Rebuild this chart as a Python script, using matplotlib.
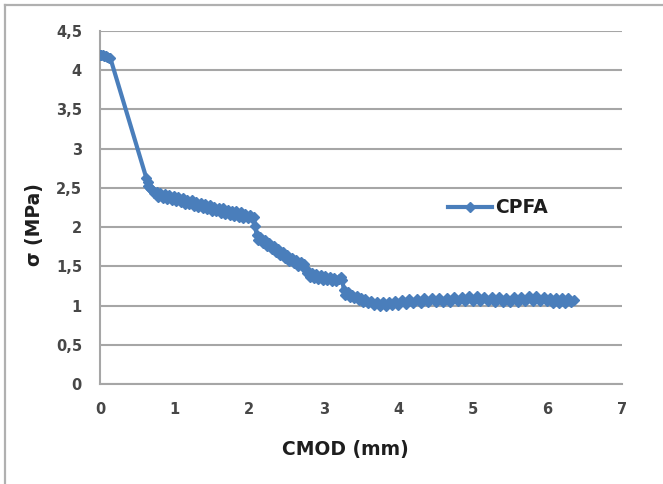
import matplotlib
matplotlib.use("Agg")
import matplotlib.pyplot as plt
from matplotlib.lines import Line2D
from matplotlib.ticker import FuncFormatter, MultipleLocator

# CMOD (mm) and stress (MPa) readings for the CPFA specimen
cmod = [
    0.00, 0.02, 0.04, 0.06, 0.08, 0.10, 0.12, 0.14,
    0.62, 0.64, 0.65, 0.67, 0.69, 0.71, 0.73, 0.76, 0.78, 0.81, 0.84, 0.87,
    0.90, 0.93, 0.96, 0.99, 1.02, 1.05, 1.08, 1.11, 1.14, 1.17, 1.20, 1.23,
    1.26, 1.29, 1.32, 1.35, 1.38, 1.41, 1.44, 1.47, 1.50, 1.53, 1.56, 1.59,
    1.62, 1.65, 1.68, 1.71, 1.74, 1.77, 1.80, 1.83, 1.86, 1.89, 1.92, 1.95,
    1.98, 2.01, 2.04, 2.06,
    2.08, 2.10, 2.12, 2.15, 2.18, 2.21, 2.24, 2.27, 2.30, 2.33, 2.36, 2.39,
    2.42, 2.45, 2.48, 2.51, 2.54, 2.57, 2.60, 2.63, 2.66, 2.69, 2.72, 2.74,
    2.76, 2.78, 2.81, 2.84, 2.87, 2.90, 2.93, 2.96, 2.99, 3.02, 3.05, 3.08,
    3.11, 3.14, 3.17, 3.20, 3.23, 3.25, 3.27, 3.29, 3.32, 3.35, 3.38, 3.41,
    3.44, 3.47, 3.50, 3.53, 3.56, 3.60, 3.64, 3.68, 3.72, 3.76, 3.80, 3.84,
    3.88, 3.92, 3.96, 4.00, 4.05, 4.10, 4.15, 4.20, 4.25, 4.30, 4.35, 4.40,
    4.45, 4.50, 4.55, 4.60, 4.65, 4.70, 4.75, 4.80, 4.85, 4.90, 4.95, 5.00,
    5.05, 5.10, 5.15, 5.20, 5.25, 5.30, 5.35, 5.40, 5.45, 5.50, 5.55, 5.60,
    5.65, 5.70, 5.75, 5.80, 5.85, 5.90, 5.95, 6.00, 6.04, 6.08, 6.12, 6.16,
    6.20, 6.24, 6.28, 6.32, 6.35,
]
sigma = [
    4.20, 4.20, 4.19, 4.18, 4.18, 4.17, 4.16, 4.15,
    2.63, 2.58, 2.53, 2.50, 2.48, 2.46, 2.44, 2.45, 2.38, 2.44, 2.37, 2.42,
    2.36, 2.41, 2.34, 2.40, 2.33, 2.38, 2.32, 2.37, 2.30, 2.35, 2.29, 2.34,
    2.27, 2.32, 2.26, 2.31, 2.24, 2.29, 2.23, 2.28, 2.21, 2.26, 2.20, 2.25,
    2.18, 2.24, 2.17, 2.22, 2.16, 2.21, 2.14, 2.20, 2.13, 2.19, 2.12, 2.17,
    2.11, 2.16, 2.11, 2.13,
    2.02, 1.90, 1.84, 1.87, 1.80, 1.84, 1.76, 1.80, 1.72, 1.76, 1.68, 1.72,
    1.64, 1.68, 1.60, 1.64, 1.57, 1.61, 1.54, 1.58, 1.51, 1.55, 1.49, 1.53,
    1.47, 1.42, 1.36, 1.41, 1.35, 1.40, 1.34, 1.39, 1.33, 1.38, 1.32, 1.37,
    1.31, 1.35, 1.31, 1.34, 1.37, 1.32, 1.20, 1.14, 1.17, 1.11, 1.14, 1.09,
    1.12, 1.07, 1.10, 1.05, 1.08, 1.03, 1.06, 1.01, 1.05, 1.00, 1.04, 1.00,
    1.05, 1.01, 1.06, 1.01, 1.07, 1.02, 1.08, 1.03, 1.08, 1.03, 1.09, 1.04,
    1.09, 1.04, 1.10, 1.05, 1.10, 1.05, 1.11, 1.06, 1.11, 1.06, 1.12, 1.06,
    1.12, 1.06, 1.11, 1.06, 1.11, 1.05, 1.11, 1.05, 1.10, 1.05, 1.11, 1.05,
    1.11, 1.06, 1.12, 1.06, 1.12, 1.06, 1.11, 1.06, 1.09, 1.03, 1.09, 1.03,
    1.09, 1.03, 1.09, 1.04, 1.07,
]

series_name = "CPFA"
x_label = "CMOD (mm)"
y_label = "σ (MPa)"

blue = "#4A7EBB"
grid_gray = "#A6A6A6"
tick_gray = "#474747"
label_dark = "#1E1E1E"
font = ["DejaVu Sans"]

fig = plt.figure(figsize=(6.63, 4.84), dpi=100)
fig.patch.set_facecolor("white")

# chart area frame (left and top edges)
fig.add_artist(Line2D([5 / 663, 5 / 663], [0, 1 - 5 / 484], transform=fig.transFigure,
                      color="#B0B0B0", lw=1.6))
fig.add_artist(Line2D([5 / 663, 1], [1 - 5 / 484, 1 - 5 / 484], transform=fig.transFigure,
                      color="#B0B0B0", lw=1.6))

ax = fig.add_axes([100 / 663, 1 - 384 / 484, 522 / 663, 353 / 484])
ax.plot(cmod, sigma, color=blue, lw=3.0, marker="D", markersize=5.5,
        markerfacecolor=blue, markeredgecolor=blue, label=series_name, zorder=3)

ax.set_xlim(0, 7)
ax.set_ylim(0, 4.5)
ax.xaxis.set_major_locator(MultipleLocator(1))
ax.yaxis.set_major_locator(MultipleLocator(0.5))
comma = FuncFormatter(lambda v, p: (f"{v:g}").replace(".", ","))
ax.xaxis.set_major_formatter(comma)
ax.yaxis.set_major_formatter(comma)

ax.grid(axis="y", color=grid_gray, lw=1.5)
ax.set_axisbelow(True)
for s in ("top", "right"):
    ax.spines[s].set_visible(False)
for s in ("left", "bottom"):
    ax.spines[s].set_color(grid_gray)
    ax.spines[s].set_linewidth(1.5)

ax.tick_params(length=0, labelsize=10.5, labelcolor=tick_gray)
ax.tick_params(axis="x", pad=13)
ax.tick_params(axis="y", pad=13)
for lab in ax.get_xticklabels() + ax.get_yticklabels():
    lab.set_fontfamily(font)
    lab.set_fontweight("bold")

ax.set_xlabel(x_label, fontsize=13.5, fontweight="bold", color=label_dark, family=font)
ax.set_ylabel(y_label, fontsize=13.5, fontweight="bold", color=label_dark, family=font)
ax.xaxis.set_label_coords(0.47, -0.158)
ax.yaxis.set_label_coords(-0.108, 0.453)

leg = ax.legend(loc="center left", bbox_to_anchor=(0.667, 0.499), frameon=False,
                borderaxespad=0, borderpad=0,
                handlelength=2.35, handletextpad=0.15,
                prop={"family": font, "weight": "bold", "size": 13.5})
for t in leg.get_texts():
    t.set_color(label_dark)

fig.savefig("out.png", dpi=100)
